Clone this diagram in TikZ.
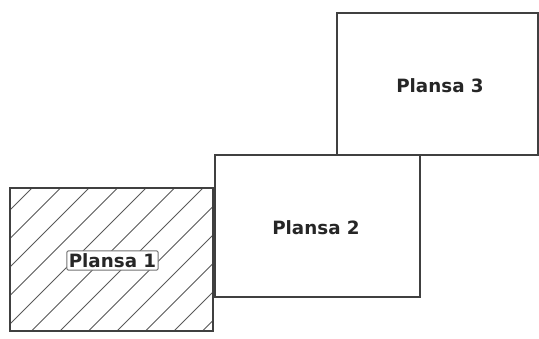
\documentclass[tikz,border=0pt]{standalone}
\usepackage{fontspec}
\setmainfont{DejaVu Sans}
\begin{document}
\begin{tikzpicture}[x=1pt,y=-1pt,
  sheet/.style={draw=black!75,line width=1.1pt},
  hatchline/.style={draw=black!65,line width=0.8pt},
  lbl/.style={font=\fontsize{18.3}{18.3}\selectfont\bfseries,text=black!85},
  boxlbl/.style={lbl,draw=black!55,fill=white,rounded corners=2pt,inner xsep=2pt,inner ysep=3pt,text height=13.4pt,text depth=0pt,line width=1pt}]
\useasboundingbox (0,0) rectangle (539,338);
% sheet 1 (hatched)
\coordinate (p1a) at (10,188);
\coordinate (p1b) at (213,331);
\begin{scope}
\clip (p1a) rectangle (p1b);
\foreach \k in {-1,...,13}{
  \draw[hatchline] ({32+28.5*\k},188) -- ({32+28.5*\k-200},388);
}
\end{scope}
\draw[sheet] (p1a) rectangle (p1b);
% sheet 2
\draw[sheet,fill=white] (215,155) rectangle (420,297);
% sheet 3
\draw[sheet,fill=white] (337,13) rectangle (538,155);
\node[boxlbl] (l1) at (112.5,260.5) {Plansa 1};
\node[lbl] (l2) at (316,228) {Plansa 2};
\node[lbl] (l3) at (440,86) {Plansa 3};
\end{tikzpicture}
\end{document}
